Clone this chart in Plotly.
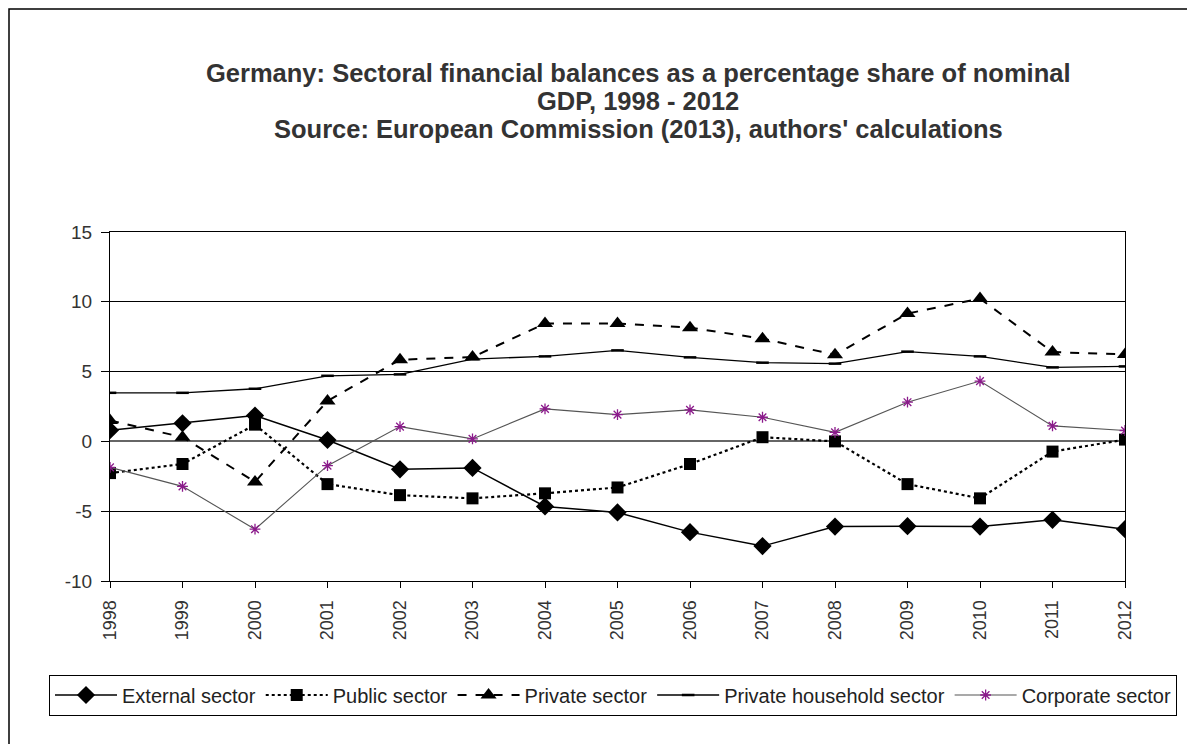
import plotly.graph_objects as go

years = [1998, 1999, 2000, 2001, 2002, 2003, 2004, 2005, 2006, 2007, 2008, 2009, 2010, 2011, 2012]
year_labels = [str(y) for y in years]
y_ticks = [-10, -5, 0, 5, 10, 15]
y_tick_labels = ["-10", "-5", "0", "5", "10", "15"]

external = [0.8, 1.3, 1.85, 0.1, -2.0, -1.9, -4.66, -5.09, -6.5, -7.5, -6.1, -6.07, -6.1, -5.62, -6.29]
public = [-2.27, -1.62, 1.2, -3.06, -3.85, -4.08, -3.72, -3.3, -1.62, 0.3, 0.0, -3.06, -4.08, -0.73, 0.13]
private = [1.5, 0.3, -2.9, 2.9, 5.85, 6.04, 8.44, 8.44, 8.15, 7.36, 6.2, 9.16, 10.23, 6.4, 6.23]
household = [3.48, 3.48, 3.77, 4.7, 4.8, 5.9, 6.09, 6.52, 6.02, 5.64, 5.57, 6.43, 6.09, 5.3, 5.37]
corporate = [-1.86, -3.22, -6.29, -1.74, 1.06, 0.18, 2.33, 1.92, 2.26, 1.73, 0.65, 2.81, 4.32, 1.11, 0.78]

title_lines = [
    "Germany: Sectoral financial balances as a percentage share of nominal",
    "GDP, 1998 - 2012",
    "Source: European Commission (2013), authors' calculations",
]

FONT = "Liberation Sans, Arial, sans-serif"

fig = go.Figure()
fig.add_trace(go.Scatter(x=years, y=external, name="External sector", mode="lines+markers",
                         line=dict(color="black", width=1.5),
                         marker=dict(symbol="diamond", size=14, color="black")))
fig.add_trace(go.Scatter(x=years, y=public, name="Public sector", mode="lines+markers",
                         line=dict(color="black", width=2.2, dash="dot"),
                         marker=dict(symbol="square", size=12, color="black")))
fig.add_trace(go.Scatter(x=years, y=private, name="Private sector", mode="lines+markers",
                         line=dict(color="black", width=2, dash="dash"),
                         marker=dict(symbol="triangle-up", size=14, color="black")))
fig.add_trace(go.Scatter(x=years, y=household, name="Private household sector", mode="lines+markers",
                         line=dict(color="black", width=1.3),
                         marker=dict(symbol="line-ew", size=9, color="black",
                                     line=dict(color="black", width=2.5))))
fig.add_trace(go.Scatter(x=years, y=corporate, name="Corporate sector", mode="lines+markers",
                         line=dict(color="#555555", width=1.1),
                         marker=dict(symbol="asterisk-open", size=9, color="#8B1A8B",
                                     line=dict(color="#8B1A8B", width=1.3))))

# page is offset by the 8px body margin; plot area in page coords x 110-1125, y 232-581
W, H = 1187, 736

def px(page_x):
    return (page_x - 8) / W

def py(page_y):
    return (581 - page_y) / 349

fig.update_layout(
    width=W, height=H,
    margin=dict(l=0, r=0, t=224, b=163),
    paper_bgcolor="white", plot_bgcolor="white",
    font=dict(family=FONT, color="#333333", size=18),
    showlegend=True,
    legend=dict(orientation="h", x=px(613), xanchor="center", y=py(695), yanchor="middle",
                bordercolor="black", borderwidth=1, font=dict(size=20, family=FONT, color="#222222"),
                itemwidth=62, tracegroupgap=0),
)

for line, base in zip(title_lines, [82, 110, 138]):
    fig.add_annotation(text="<b>" + line + "</b>", xref="paper", yref="paper",
                       x=px(638), y=py(base - 9),
                       xanchor="center", yanchor="middle", showarrow=False,
                       font=dict(family=FONT, size=25.5, color="#333333"))

fig.update_xaxes(domain=[px(110), px(1125)], range=[1998, 2012],
                 tickmode="array", tickvals=years, ticktext=year_labels,
                 tickangle=-90, ticks="outside", ticklen=6, tickcolor="black",
                 ticklabelstandoff=5, automargin=False,
                 showline=True, linecolor="black", linewidth=1.2, mirror=True,
                 showgrid=False, zeroline=False, tickfont=dict(size=18, family=FONT, color="#333333"))
fig.update_yaxes(range=[-10, 15], tickmode="array", tickvals=y_ticks, ticktext=y_tick_labels,
                 ticks="outside", ticklen=8, tickcolor="black",
                 ticklabelstandoff=5, automargin=False,
                 showline=True, linecolor="black", linewidth=1.2, mirror=True,
                 showgrid=True, gridcolor="black", gridwidth=1,
                 zeroline=True, zerolinecolor="#666666", zerolinewidth=2,
                 tickfont=dict(size=19, family=FONT, color="#333333"))

# outer chart frame
fig.add_shape(type="rect", xref="paper", yref="paper",
              x0=px(9), x1=px(1240),
              y0=py(780), y1=py(9),
              line=dict(color="black", width=1.5), layer="below")

fig.write_html("out.html")
